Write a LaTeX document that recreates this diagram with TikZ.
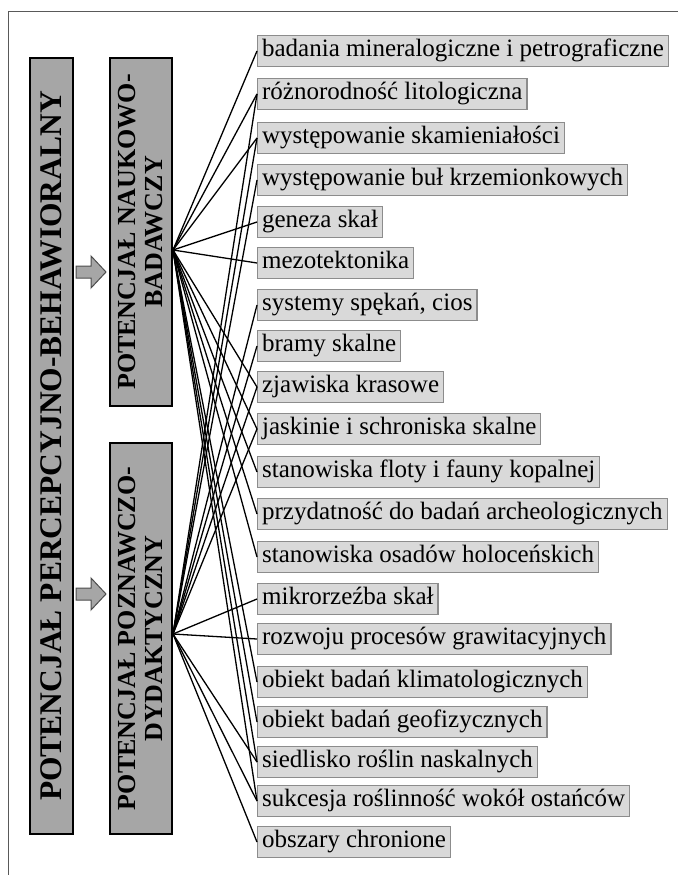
\documentclass[tikz,border=0pt]{standalone}
\usepackage{fontspec}
\setmainfont{Liberation Serif}
\usetikzlibrary{positioning}

\tikzset{
  item/.style={draw=black!45, fill=black!15, line width=1.2pt, anchor=west,
    inner xsep=4.5pt, inner ysep=0pt, minimum height=31pt,
    text height=17pt, text depth=5.5pt, font=\fontsize{25}{28}\selectfont},
  mainbox/.style={draw=black, fill=black!35, line width=2.5pt, rotate=90,
    inner sep=0pt, font=\bfseries\fontsize{31.5}{33}\selectfont},
  subbox/.style={mainbox, align=center, font=\bfseries\fontsize{26}{27}\selectfont},
  link/.style={line width=1.3pt},
  blockarrow/.style={draw=black!70, fill=black!35, line width=1pt}
}

\begin{document}
\begin{tikzpicture}[x=1pt,y=-1pt]
  \useasboundingbox (0,0) rectangle (678,875);
  \draw[black!65, line width=1pt] (8,875) -- (8,12) -- (678,12);

  % left column
  \node[mainbox, minimum width=776pt, minimum height=43pt] (perc) at (51.5,446)
    {POTENCJAŁ PERCEPCYJNO-BEHAWIORALNY};
  \node[subbox, minimum width=348pt, minimum height=62pt] (nauk) at (141,232)
    {POTENCJAŁ NAUKOWO-\\BADAWCZY};
  \node[subbox, minimum width=391pt, minimum height=62pt] (pozn) at (141,638.5)
    {POTENCJAŁ POZNAWCZO-\\DYDAKTYCZNY};

  \filldraw[blockarrow] (76,266) -- (91,266) -- (91,256) -- (106,272)
    -- (91,288) -- (91,278) -- (76,278) -- cycle;
  \filldraw[blockarrow] (76,588) -- (91,588) -- (91,578) -- (106,594)
    -- (91,610) -- (91,600) -- (76,600) -- cycle;

  \coordinate (hubA) at (173,250);
  \coordinate (hubB) at (173,634);

  % items
  \node[item] (it1) at (257,51) {badania mineralogiczne i petrograficzne};
  \node[item] (it2) at (257,94) {różnorodność litologiczna};
  \node[item] (it3) at (257,138) {występowanie skamieniałości};
  \node[item] (it4) at (257,180) {występowanie buł krzemionkowych};
  \node[item] (it5) at (257,222) {geneza skał};
  \node[item] (it6) at (257,263) {mezotektonika};
  \node[item] (it7) at (257,305) {systemy spękań, cios};
  \node[item] (it8) at (257,346) {bramy skalne};
  \node[item] (it9) at (257,387) {zjawiska krasowe};
  \node[item] (it10) at (257,429) {jaskinie i schroniska skalne};
  \node[item] (it11) at (257,472) {stanowiska floty i fauny kopalnej};
  \node[item] (it12) at (257,514) {przydatność do badań archeologicznych};
  \node[item] (it13) at (257,557) {stanowiska osadów holoceńskich};
  \node[item] (it14) at (257,599) {mikrorzeźba skał};
  \node[item] (it15) at (257,639) {rozwoju procesów grawitacyjnych};
  \node[item] (it16) at (257,682) {obiekt badań klimatologicznych};
  \node[item] (it17) at (257,722) {obiekt badań geofizycznych};
  \node[item] (it18) at (257,762) {siedlisko roślin naskalnych};
  \node[item] (it19) at (257,801) {sukcesja roślinność wokół ostańców};
  \node[item] (it20) at (257,842) {obszary chronione};

  % links
  \foreach \i in {1,2,3,5,6,9,10,11,12,13,16,17,18,19}
    \draw[link] (hubA) -- (it\i.west);
  \foreach \i in {2,3,4,7,8,9,10,14,15,18,19,20}
    \draw[link] (hubB) -- (it\i.west);
\end{tikzpicture}
\end{document}
